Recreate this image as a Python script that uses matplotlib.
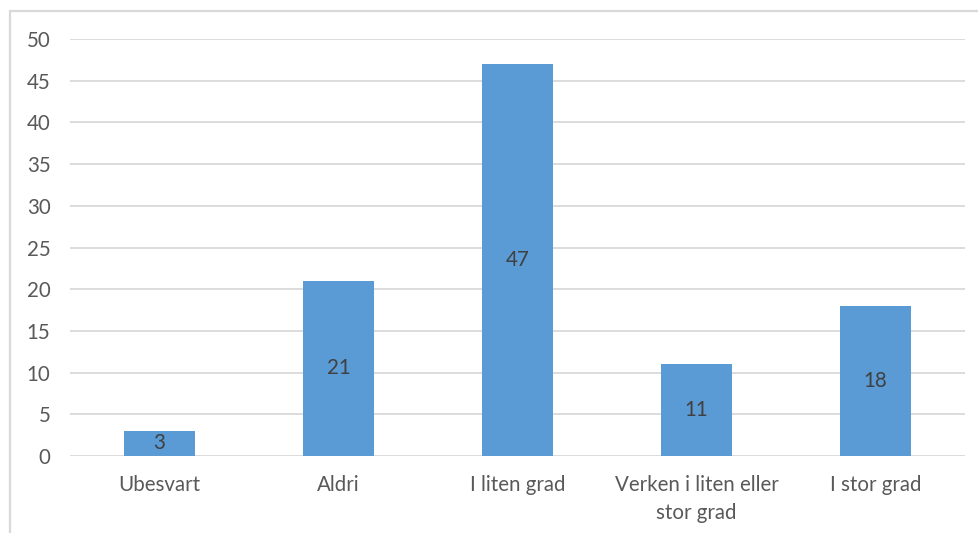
import matplotlib
matplotlib.use("Agg")
import matplotlib.pyplot as plt
from matplotlib.patches import Rectangle

categories = ["Ubesvart", "Aldri", "I liten grad", "Verken i liten eller\nstor grad", "I stor grad"]
values = [3, 21, 47, 11, 18]
y_ticks = [0, 5, 10, 15, 20, 25, 30, 35, 40, 45, 50]

plt.rcParams["font.family"] = ["Lato", "DejaVu Sans"]

W, H = 979, 533
fig = plt.figure(figsize=(W / 100, H / 100), dpi=100)
fig.patch.set_facecolor("white")

# light frame around the chart area
fig.patches.append(Rectangle((10 / W, -0.1), 1.2, 1 - 11 / H + 0.1,
                             transform=fig.transFigure, fill=False,
                             edgecolor="#d9d9d9", linewidth=1.6))

ax = fig.add_axes([70 / W, 1 - 456 / H, (965 - 70) / W, (456 - 39) / H])
x = range(len(categories))
bars = ax.bar(x, values, width=0.40, color="#5B9BD5", zorder=3)

ax.set_xlim(-0.5, len(categories) - 0.5)
ax.set_ylim(0, 50)
ax.set_yticks(y_ticks)
ax.set_xticks(list(x))
ax.set_xticklabels(categories, fontsize=14.8, color="#595959", linespacing=1.45)
ax.tick_params(axis="y", labelsize=14.8, labelcolor="#595959", length=0, pad=14)
ax.tick_params(axis="x", length=0, pad=14)

ax.grid(axis="y", color="#d9d9d9", linewidth=1.3, zorder=0)
for s in ax.spines.values():
    s.set_visible(False)

for b, v in zip(bars, values):
    ax.text(b.get_x() + b.get_width() / 2, v / 2, str(v), ha="center", va="center",
            fontsize=14.8, color="#404040", zorder=4)

fig.savefig("out.png", dpi=100, facecolor="white")
